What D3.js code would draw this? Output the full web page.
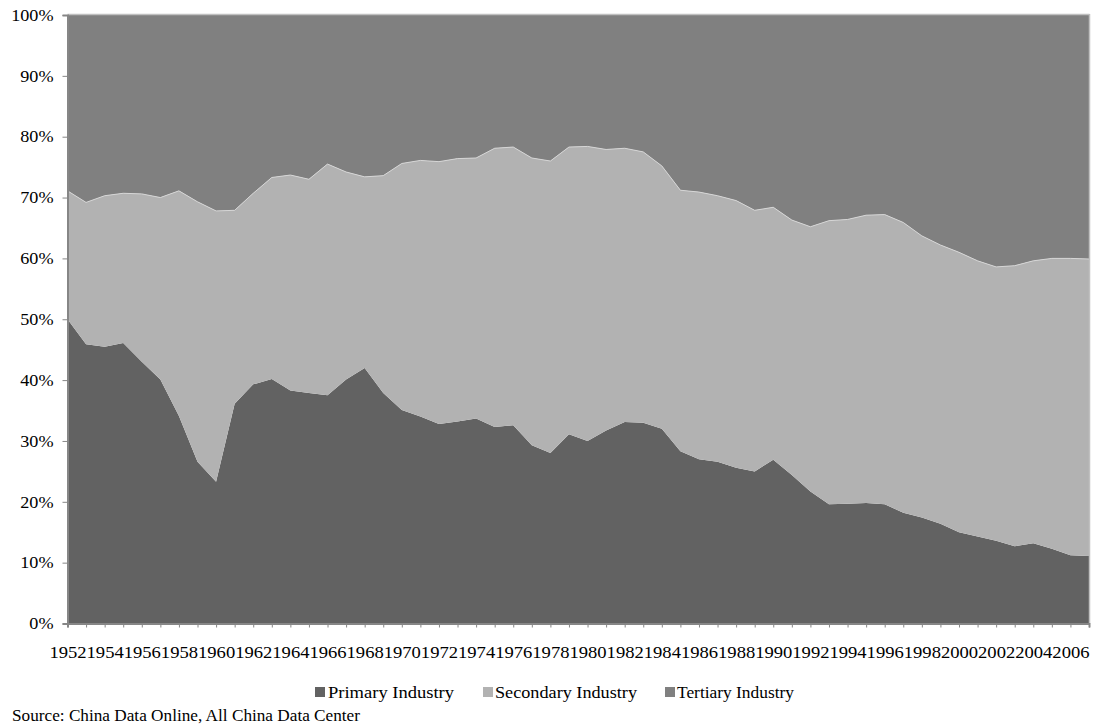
<!DOCTYPE html>
<html>
<head>
<meta charset="utf-8">
<script src="https://cdn.jsdelivr.net/npm/d3@7"></script>
<style>
  html, body { margin: 0; padding: 0; background: #fff; }
  svg { display: block; }
  text { font-family: "Palatino Linotype", "Book Antiqua", Palatino, "Liberation Serif", "DejaVu Serif", serif; fill: #000; }
</style>
</head>
<body>
<svg id="chart" width="1097" height="726"></svg>
<script>
// Share of GDP by sector, China (percent)
const years = d3.range(1952, 2008);

const primary = [
  50.0, 45.9, 45.5, 46.1, 43.0, 40.1, 34.1, 26.6, 23.3, 36.1,
  39.3, 40.2, 38.3, 37.9, 37.5, 40.1, 42.0, 37.9, 35.1, 34.0,
  32.8, 33.2, 33.7, 32.3, 32.6, 29.3, 28.0, 31.1, 30.0, 31.7,
  33.1, 33.0, 32.0, 28.3, 27.0, 26.6, 25.6, 25.0, 26.9, 24.4,
  21.7, 19.6, 19.7, 19.8, 19.6, 18.2, 17.4, 16.4, 15.0, 14.3,
  13.6, 12.7, 13.2, 12.3, 11.2, 11.1
];

const secondary = [
  21.1, 23.3, 24.8, 24.6, 27.6, 29.9, 37.0, 42.7, 44.5, 31.8,
  31.4, 33.1, 35.4, 35.1, 38.0, 34.1, 31.4, 35.7, 40.5, 42.1,
  43.1, 43.2, 42.8, 45.8, 45.7, 47.2, 48.0, 47.2, 48.4, 46.2,
  45.0, 44.5, 43.2, 42.9, 43.9, 43.7, 43.9, 42.9, 41.5, 41.9,
  43.5, 46.6, 46.7, 47.3, 47.6, 47.7, 46.3, 45.8, 46.0, 45.3,
  45.0, 46.1, 46.4, 47.7, 48.8, 48.8
];

const tertiary = [
  28.9, 30.8, 29.7, 29.3, 29.4, 30.0, 28.9, 30.7, 32.2, 32.1,
  29.3, 26.7, 26.3, 27.0, 24.5, 25.8, 26.6, 26.4, 24.4, 23.9,
  24.1, 23.6, 23.5, 21.9, 21.7, 23.5, 24.0, 21.7, 21.6, 22.1,
  21.9, 22.5, 24.8, 28.8, 29.1, 29.7, 30.5, 32.1, 31.6, 33.7,
  34.8, 33.8, 33.6, 32.9, 32.8, 34.1, 36.3, 37.8, 39.0, 40.4,
  41.4, 41.2, 40.4, 40.0, 40.0, 40.1
];

const seriesNames = ["Primary Industry", "Secondary Industry", "Tertiary Industry"];
const seriesColors = ["#626262", "#b2b2b2", "#808080"];
const yTicks = [0, 0.1, 0.2, 0.3, 0.4, 0.5, 0.6, 0.7, 0.8, 0.9, 1.0];
const sourceNote = "Source: China Data Online, All China Data Center";

const rows = years.map((yr, i) => ({
  year: yr,
  [seriesNames[0]]: primary[i],
  [seriesNames[1]]: secondary[i],
  [seriesNames[2]]: tertiary[i]
}));

const svg = d3.select("#chart");
const plotLeft = 67.5, plotRight = 1089, plotTop = 15, plotBottom = 623.5;

const x = d3.scalePoint().domain(years).range([plotLeft, plotRight]);
const y = d3.scaleLinear().domain([0, 1]).range([plotBottom, plotTop]);

const stack = d3.stack().keys(seriesNames).offset(d3.stackOffsetExpand);
const layers = stack(rows);

const area = d3.area()
  .x(d => x(d.data.year))
  .y0(d => y(d[0]))
  .y1(d => y(d[1]));

svg.append("g").selectAll("path")
  .data(layers)
  .join("path")
  .attr("d", area)
  .attr("fill", (d, i) => seriesColors[i]);

// thin light edge along the top of the secondary band
svg.append("path")
  .datum(layers[1])
  .attr("fill", "none")
  .attr("stroke", "#d6d6d6")
  .attr("stroke-width", 1)
  .attr("d", d3.line().x(d => x(d.data.year)).y(d => y(d[1])));

// plot frame: light top/right, darker left/bottom axes
svg.append("line").attr("x1", plotLeft).attr("x2", plotRight + 0.5).attr("y1", plotTop - 0.5).attr("y2", plotTop - 0.5)
  .attr("stroke", "#c0c0c0").attr("stroke-width", 1.5);
svg.append("line").attr("x1", plotRight + 0.5).attr("x2", plotRight + 0.5).attr("y1", plotTop - 1).attr("y2", plotBottom)
  .attr("stroke", "#c0c0c0").attr("stroke-width", 1.5);

// Y axis
const yAxis = d3.axisLeft(y)
  .tickValues(yTicks)
  .tickFormat(d3.format(".0%"))
  .tickSize(5)
  .tickPadding(9);
const gy = svg.append("g").attr("transform", `translate(${plotLeft},0)`).call(yAxis);
gy.select(".domain").attr("stroke", "#868686").attr("stroke-width", 2);
gy.selectAll(".tick line").attr("stroke", "#868686");
gy.selectAll(".tick text").attr("font-size", 16.5).attr("fill", "#000");

// X axis: a tick for every year, a label every second year
const xAxis = d3.axisBottom(x)
  .tickValues(years)
  .tickFormat(d => (d % 2 === 0 ? d : ""))
  .tickSize(4)
  .tickPadding(19);
const gx = svg.append("g").attr("transform", `translate(0,${plotBottom})`).call(xAxis);
gx.select(".domain").attr("stroke", "#868686").attr("stroke-width", 2);
gx.selectAll(".tick line").attr("stroke", "#868686");
gx.selectAll(".tick text").attr("font-size", 16.5).attr("fill", "#000");

svg.selectAll("g").attr("font-family", null);

// stretch serif labels to the set widths
function widen(sel, target) {
  sel.each(function () {
    const t = d3.select(this);
    if (!t.text()) return;
    const w = this.getComputedTextLength();
    const len = typeof target === "function" ? target(w) : target;
    t.attr("textLength", len).attr("lengthAdjust", "spacingAndGlyphs");
  });
}
widen(gx.selectAll(".tick text"), 37.2);
widen(gy.selectAll(".tick text"), w => w * 1.1);

// Legend
const legendItems = [
  { name: seriesNames[0], color: seriesColors[0], sx: 315, tx: 328, len: 126 },
  { name: seriesNames[1], color: seriesColors[1], sx: 483, tx: 495, len: 142 },
  { name: seriesNames[2], color: seriesColors[2], sx: 665, tx: 677, len: 117 }
];
const lg = svg.append("g");
lg.selectAll("rect").data(legendItems).join("rect")
  .attr("x", d => d.sx).attr("y", 687).attr("width", 10).attr("height", 10)
  .attr("fill", d => d.color);
lg.selectAll("text").data(legendItems).join("text")
  .attr("x", d => d.tx).attr("y", 698)
  .attr("font-size", 17)
  .attr("textLength", d => d.len)
  .attr("lengthAdjust", "spacingAndGlyphs")
  .text(d => d.name);

svg.append("text")
  .attr("x", 12).attr("y", 721)
  .attr("font-size", 17)
  .attr("textLength", 348)
  .attr("lengthAdjust", "spacingAndGlyphs")
  .text(sourceNote);
</script>
</body>
</html>
